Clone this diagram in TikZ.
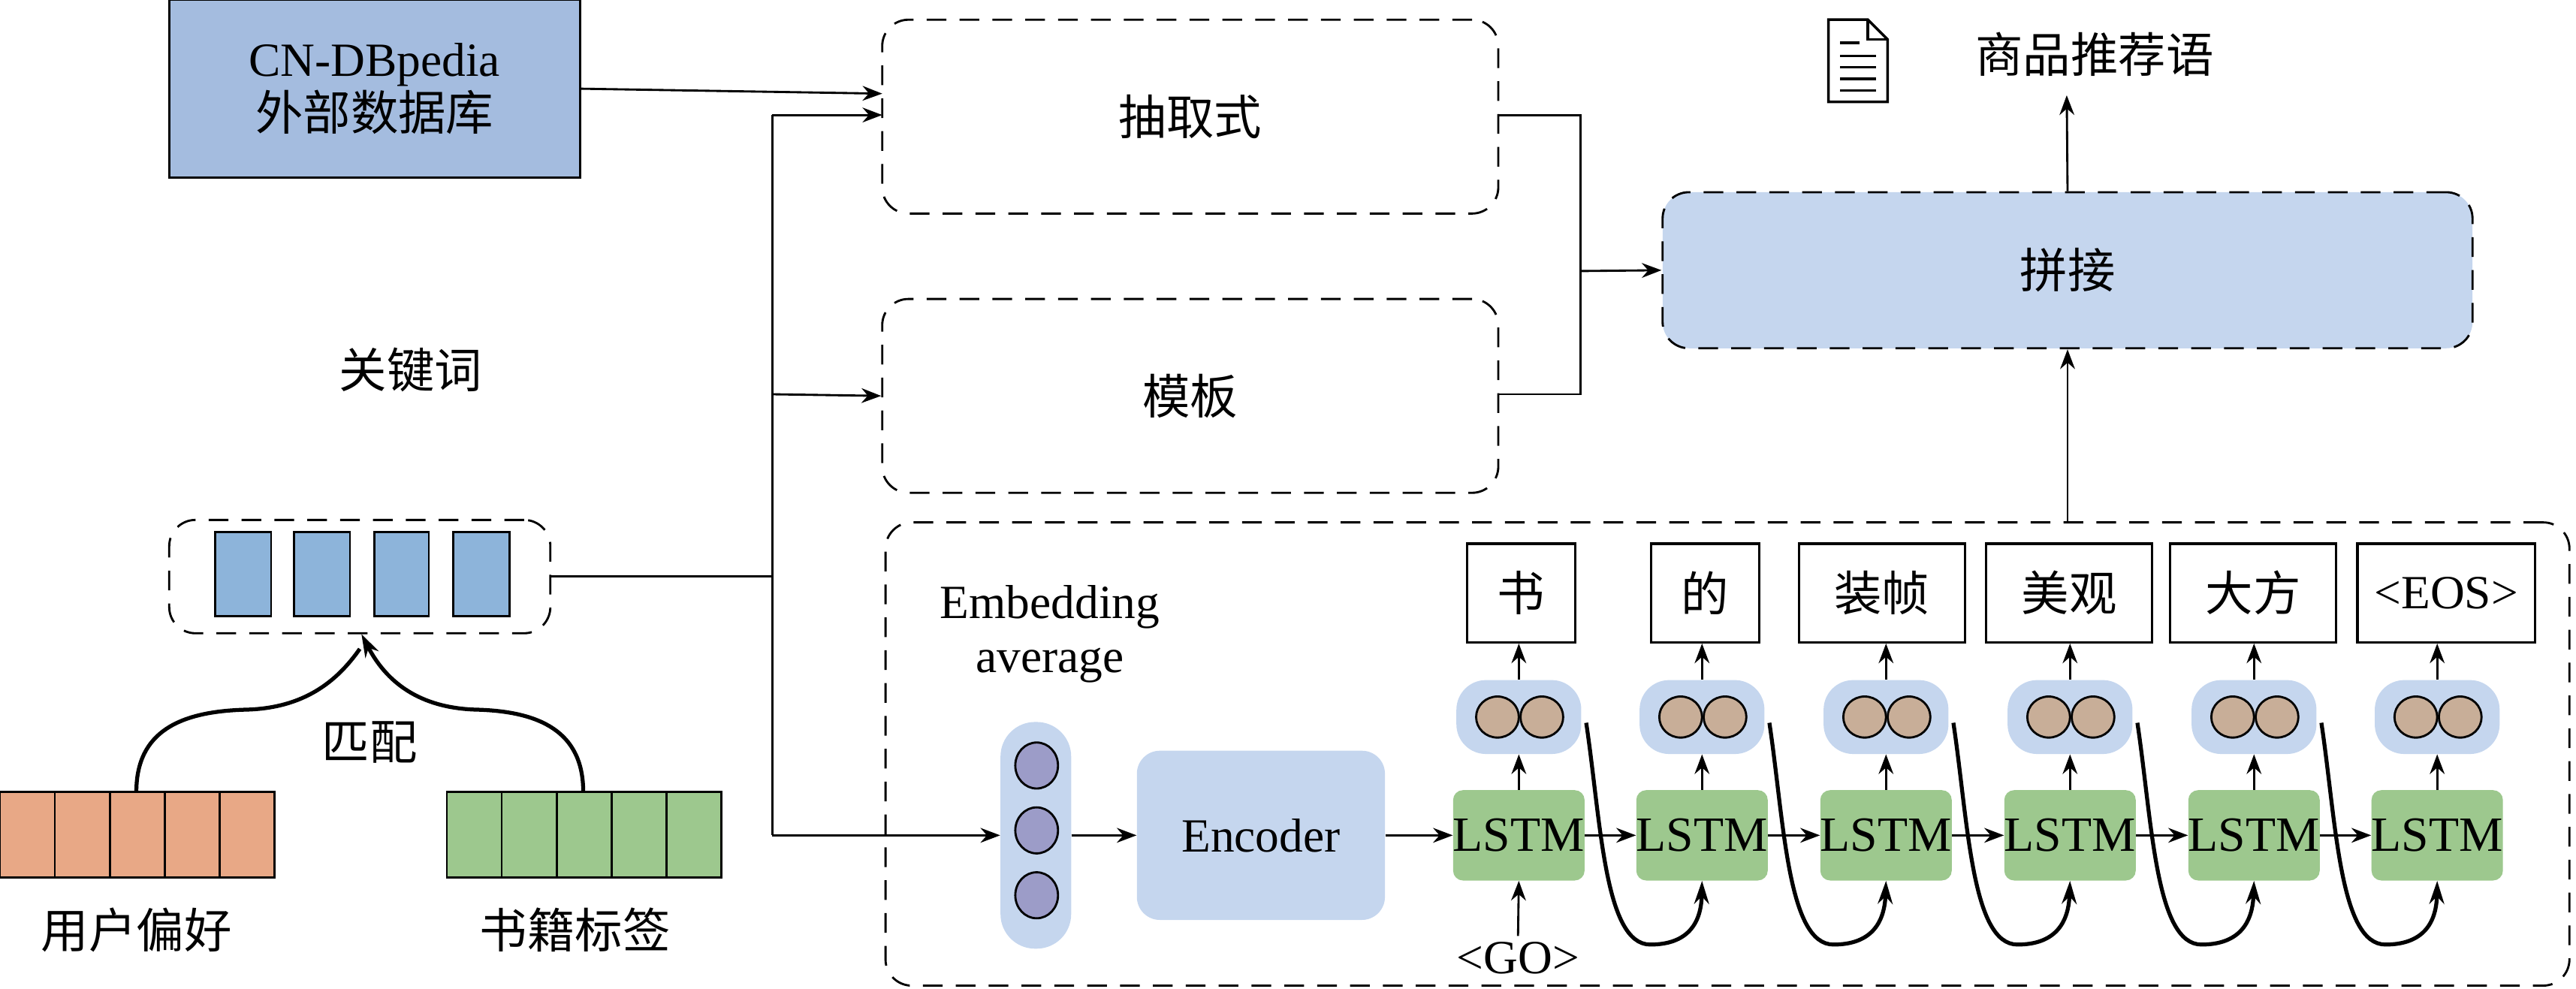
\documentclass[tikz,border=0pt]{standalone}
\usepackage{fontspec}
\setmainfont{Liberation Serif}
\newfontfamily\cjk{Noto Sans CJK SC}
\usetikzlibrary{arrows.meta}
\definecolor{lblue}{HTML}{C5D6EE}
\definecolor{dblue}{HTML}{A4BCDF}
\definecolor{kblue}{HTML}{8DB4DA}
\definecolor{org}{HTML}{E8A886}
\definecolor{grn}{HTML}{9DC88E}
\definecolor{purp}{HTML}{9C9CC8}
\definecolor{brn}{HTML}{C8AE98}
\begin{document}
\begin{tikzpicture}[x=1pt,y=-1pt,
  every node/.style={font=\fontsize{29}{33}\selectfont},
  dbox/.style={draw,dashed,line width=1.3pt,dash pattern=on 12pt off 8pt,rounded corners=16pt},
  arr/.style={-{Stealth[length=12pt,width=9pt]},line width=1.3pt},
  thk/.style={-{Stealth[length=14pt,width=9pt]},line width=2.4pt},
  lstm/.style={fill=grn,rounded corners=6pt,minimum width=80pt,minimum height=55pt,inner sep=0pt,font=\fontsize{30}{32}\selectfont},
  wbox/.style={draw,line width=1.5pt,minimum height=60pt,inner sep=0pt},
  opill/.style={fill=lblue,rounded corners=18pt,minimum width=76pt,minimum height=45pt},
]
\useasboundingbox (0,0) rectangle (1568,602);
% top left
\node[draw,line width=1.3pt,fill=dblue,minimum width=250pt,minimum height=108pt,align=center] (cn) at (228,54) {CN-DBpedia\\{\cjk 外部数据库}};
\node[dbox,minimum width=375pt,minimum height=118pt] (ext) at (724.5,71) {\cjk 抽取式};
\node[dbox,minimum width=375pt,minimum height=118pt] (tpl) at (724.5,241) {\cjk 模板};
\node[dbox,fill=lblue,minimum width=493pt,minimum height=95pt] (pj) at (1258.5,164.5) {\cjk 拼接};
\node (out) at (1275,33) {\cjk 商品推荐语};
% doc icon
\begin{scope}[shift={(1113,12)},line width=1.6pt]
\draw (0,0) -- (24,0) -- (36,12) -- (36,50) -- (0,50) -- cycle;
\draw (24,0) -- (24,12) -- (36,12);
\draw (7,14) -- (19,14);
\foreach \yy in {22,29,36,43} \draw (7,\yy) -- (29,\yy);
\end{scope}
\node (kw) at (250,225) {\cjk 关键词};
\node[dbox,minimum width=232pt,minimum height=69pt] (kbox) at (219,351) {};
\foreach \a/\b in {131/165,179/213,228/261,276/310}
  \draw[line width=1.3pt,fill=kblue] (\a,324) rectangle (\b,375);
\coordinate (kt) at (220,386);
% orange and green
\draw[line width=1.3pt,fill=org] (0,482) rectangle (167,534);
\foreach \i in {1,...,4} \draw[line width=1.3pt] (\i*33.4,482) -- (\i*33.4,534);
\draw[line width=1.3pt,fill=grn] (272,482) rectangle (439,534);
\foreach \i in {1,...,4} \draw[line width=1.3pt] (272+\i*33.4,482) -- (272+\i*33.4,534);
\coordinate (ot) at (83,482);
\coordinate (gt) at (355,482);
\node (uo) at (83,566) {\cjk 用户偏好};
\node (ug) at (350,566) {\cjk 书籍标签};
\node (pp) at (225,452) {\cjk 匹配};
\draw[line width=2.4pt] (ot) .. controls (83,445) and (110,433) .. (150,432) .. controls (185,431) and (205,415) .. (219,395);
\draw[thk] (gt) .. controls (355,445) and (328,433) .. (290,432) .. controls (255,431) and (235,415) .. (kt);
% connectors left
\coordinate (j1) at (470,70);
\coordinate (j2) at (470,240);
\coordinate (j3) at (470,508.5);
\draw[line width=1.3pt] (kbox.east) -- (470,351);
\draw[line width=1.3pt] (j1) -- (j3);
\draw[arr] (cn.east) -- (537,57);
\draw[arr] (j1) -- (537,70);
\draw[arr] (j2) -- (tpl.west);
\coordinate (m) at (962,165);
\draw[line width=1.3pt] (912,70) -| (m);
\draw[line width=1.3pt] (912,240) -| (m);
\draw[arr] (m) -- (pj.west);
\draw[arr] (pj.north) -- (1258,58);
% big box
\node[dbox,minimum width=1025pt,minimum height=282pt] (big) at (1051.5,459) {};
\draw[arr] (big.north -| pj.north) -- (pj.south);
\node[align=center] (emb) at (639,386) {Embedding\\average};
\node[fill=lblue,rounded corners=21pt,minimum width=43pt,minimum height=138pt,inner sep=0pt] (pill) at (630.5,508.5) {};
\foreach \yy in {466,505.5,545} \draw[line width=1.3pt,fill=purp] (631,\yy) ellipse (13pt and 14pt);
\draw[arr] (j3) -- (pill.west);
\node[fill=lblue,rounded corners=14pt,minimum width=151pt,minimum height=103pt] (enc) at (767.5,508.5) {Encoder};
\draw[arr] (pill.east) -- (enc.west);
% decoder
\foreach \i/\x/\wx/\ww/\t in {1/924.5/926/66/{\cjk 书},2/1036/1038/66/{\cjk 的},3/1148/1145.5/101/{\cjk 装帧},4/1260/1259.5/101/{\cjk 美观},5/1372/1371.5/101/{\cjk 大方},6/1483.5/1489/108/{<EOS>}}{
  \node[lstm] (l\i) at (\x,508.5) {LSTM};
  \node[opill] (o\i) at (\x,436.5) {};
  \draw[line width=1.3pt,fill=brn] (\x-13,436.5) ellipse (13pt and 12.5pt);
  \draw[line width=1.3pt,fill=brn] (\x+14,436.5) ellipse (13pt and 12.5pt);
  \node[wbox,minimum width=\ww pt] (w\i) at (\wx,361) {\t};
  \draw[arr] (l\i.north) -- (o\i.south);
  \draw[arr] (o\i.north) -- (o\i.north |- w\i.south);
}
\draw[arr] (enc.east) -- (l1.west);
\foreach \i/\j/\x in {1/2/924.5,2/3/1036,3/4/1148,4/5/1260,5/6/1372}{
  \draw[arr] (l\i.east) -- (l\j.west);
  \draw[thk] ({\x+41},440) .. controls ({\x+50},500) and ({\x+52},575) .. ({\x+80},575) .. controls ({\x+100},575) and ({\x+111},565) .. (l\j.south);
}
\node (go) at (924,583) {<GO>};
\draw[arr] (go.north) -- (l1.south);
\end{tikzpicture}
\end{document}
